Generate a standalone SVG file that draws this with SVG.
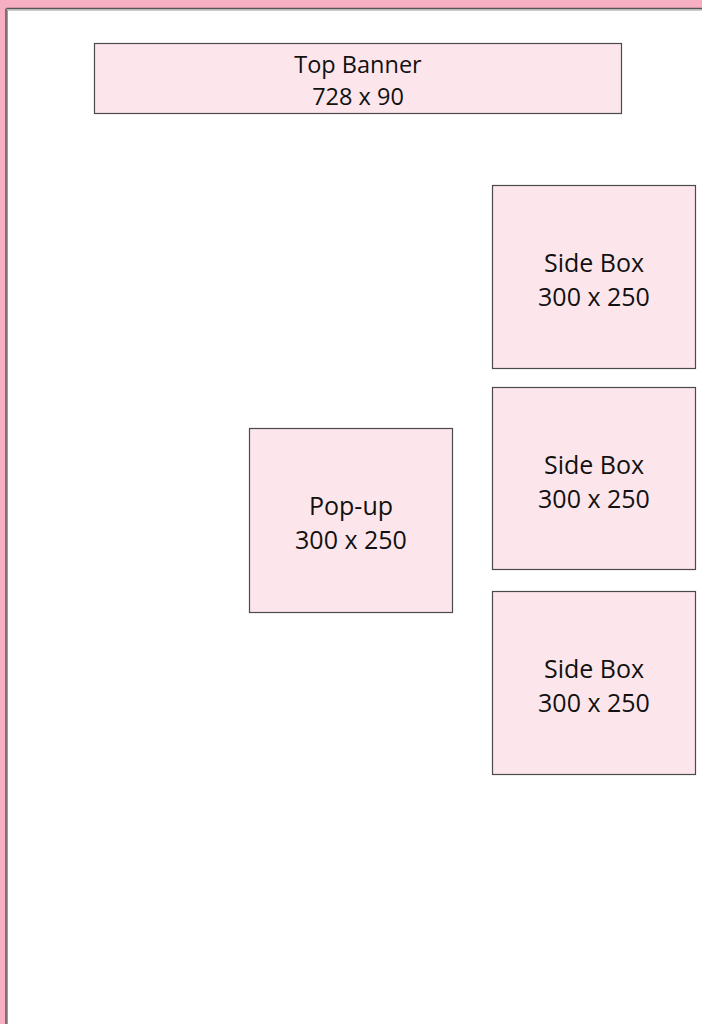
<svg xmlns="http://www.w3.org/2000/svg" width="702" height="1024" viewBox="0 0 702 1024">
  <style>
    .slot { fill: #fde6eb; stroke: #4a4a4a; stroke-width: 1.2; }
    .label { font-family: "Open Sans", "Noto Sans", sans-serif; font-size: 25px; fill: #111; text-anchor: middle; }
    .label-sm { font-family: "Open Sans", "Noto Sans", sans-serif; font-size: 23.5px; fill: #111; text-anchor: middle; }
  </style>

  <!-- page frame -->
  <rect x="0" y="0" width="702" height="1024" fill="#f7afc3"/>
  <rect x="6.5" y="9" width="700" height="1020" fill="#ffffff"/>
  <line x1="6.5" y1="8.5" x2="702" y2="8.5" stroke="#555555" stroke-width="1.5"/>
  <line x1="6" y1="8.5" x2="6" y2="1024" stroke="#555555" stroke-width="1.5"/>
  <line x1="7.5" y1="10" x2="702" y2="10" stroke="#9a9a9a" stroke-width="1"/>
  <line x1="7.5" y1="10" x2="7.5" y2="1024" stroke="#9a9a9a" stroke-width="1"/>

  <g id="top-banner">
    <rect class="slot" x="94.5" y="43.5" width="527" height="70"/>
    <text class="label-sm" x="358" y="72.5">Top Banner</text>
    <text class="label-sm" x="358" y="105">728 x 90</text>
  </g>

  <g id="side-box-1">
    <rect class="slot" x="492.5" y="185.5" width="203" height="183"/>
    <text class="label" x="594" y="272">Side Box</text>
    <text class="label" x="594" y="306">300 x 250</text>
  </g>

  <g id="side-box-2">
    <rect class="slot" x="492.5" y="387.5" width="203" height="182"/>
    <text class="label" x="594" y="474">Side Box</text>
    <text class="label" x="594" y="508">300 x 250</text>
  </g>

  <g id="side-box-3">
    <rect class="slot" x="492.5" y="591.5" width="203" height="183"/>
    <text class="label" x="594" y="678">Side Box</text>
    <text class="label" x="594" y="712">300 x 250</text>
  </g>

  <g id="pop-up">
    <rect class="slot" x="249.5" y="428.5" width="203" height="184"/>
    <text class="label" x="351" y="515">Pop-up</text>
    <text class="label" x="351" y="549">300 x 250</text>
  </g>

  <g id="connectors"/>
</svg>
